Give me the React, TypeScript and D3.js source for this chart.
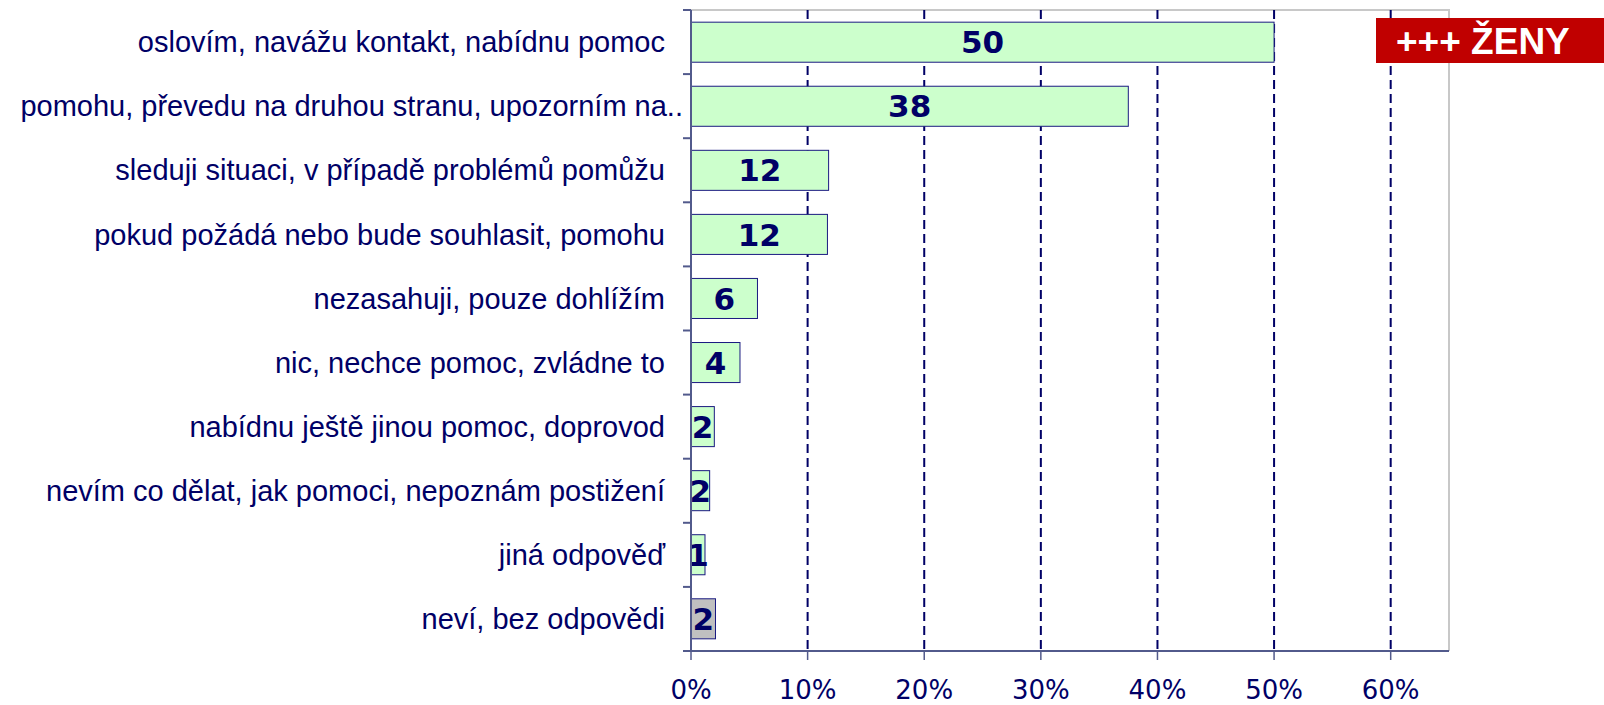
import React, { useEffect, useRef } from 'react';
import * as d3 from 'd3';

const categories = [
  'oslovím, navážu kontakt, nabídnu pomoc',
  'pomohu, převedu na druhou stranu, upozorním na..',
  'sleduji situaci, v případě problémů pomůžu',
  'pokud požádá nebo bude souhlasit, pomohu',
  'nezasahuji, pouze dohlížím',
  'nic, nechce pomoc, zvládne to',
  'nabídnu ještě jinou pomoc, doprovod',
  'nevím co dělat, jak pomoci, nepoznám postižení',
  'jiná odpověď',
  'neví, bez odpovědi',
];
const values = [50.0, 37.5, 11.8, 11.7, 5.7, 4.2, 2.0, 1.6, 1.2, 2.1];
const valueLabels = ['50', '38', '12', '12', '6', '4', '2', '2', '1', '2'];
const xTicks = [0, 10, 20, 30, 40, 50, 60];
const badgeText = '+++ ŽENY';

const W = 1604;
const H = 705;
const NAVY = '#000066';
const AXIS = '#525a8c';

export default function App() {
  const svgRef = useRef<SVGSVGElement | null>(null);

  useEffect(() => {
    if (!svgRef.current) return;
    const svg = d3.select(svgRef.current);
    svg.selectAll('*').remove();

    const left = 691;
    const right = 1449;
    const top = 10;
    const bottom = 651;

    const x = d3.scaleLinear().domain([0, 65]).range([left, right]);
    const y = d3.scaleBand<string>().domain(categories).range([top, bottom]).paddingInner(0.375).paddingOuter(0.19);
    const band = d3.scaleBand<string>().domain(categories).range([top, bottom]);

    svg.append('rect').attr('width', W).attr('height', H).attr('fill', '#fff');

    // plot frame (top + right)
    svg.append('path')
      .attr('d', `M${left},${top}H${right}V${bottom}`)
      .attr('fill', 'none')
      .attr('stroke', '#c8c8c8')
      .attr('stroke-width', 2);

    // dashed gridlines
    svg.selectAll('.grid')
      .data(xTicks.filter(t => t > 0))
      .enter()
      .append('line')
      .attr('x1', d => x(d))
      .attr('x2', d => x(d))
      .attr('y1', top)
      .attr('y2', bottom)
      .attr('stroke', NAVY)
      .attr('stroke-width', 2)
      .attr('stroke-dasharray', '9,5');

    // bars
    svg.selectAll('.bar')
      .data(values)
      .enter()
      .append('rect')
      .attr('x', x(0))
      .attr('y', (_, i) => y(categories[i])!)
      .attr('width', d => x(d) - x(0))
      .attr('height', y.bandwidth())
      .attr('fill', (_, i) => (i === categories.length - 1 ? '#c0c0c0' : '#ccffcc'))
      .attr('stroke', '#1a1a80')
      .attr('stroke-width', 1);

    // value labels
    svg.selectAll('.val')
      .data(values)
      .enter()
      .append('text')
      .attr('x', d => (x(0) + x(d)) / 2)
      .attr('y', (_, i) => y(categories[i])! + y.bandwidth() / 2)
      .attr('dy', '0.36em')
      .attr('text-anchor', 'middle')
      .attr('font-family', 'DejaVu Sans, Verdana, sans-serif')
      .attr('font-weight', 'bold')
      .attr('font-size', 31)
      .attr('fill', NAVY)
      .text((_, i) => valueLabels[i]);

    // left axis
    svg.append('line')
      .attr('x1', left).attr('x2', left)
      .attr('y1', top).attr('y2', bottom)
      .attr('stroke', AXIS).attr('stroke-width', 2);
    const bounds = categories.map(c => band(c)!).concat([bottom]);
    svg.selectAll('.ytick')
      .data(bounds)
      .enter()
      .append('line')
      .attr('x1', left - 8).attr('x2', left)
      .attr('y1', d => d).attr('y2', d => d)
      .attr('stroke', AXIS).attr('stroke-width', 2);

    // bottom axis
    svg.append('line')
      .attr('x1', left - 8).attr('x2', right)
      .attr('y1', bottom).attr('y2', bottom)
      .attr('stroke', AXIS).attr('stroke-width', 2);
    svg.selectAll('.xtick')
      .data(xTicks)
      .enter()
      .append('line')
      .attr('x1', d => x(d)).attr('x2', d => x(d))
      .attr('y1', bottom).attr('y2', bottom + 9)
      .attr('stroke', AXIS).attr('stroke-width', 1.5);
    svg.selectAll('.xlab')
      .data(xTicks)
      .enter()
      .append('text')
      .attr('x', d => x(d))
      .attr('y', 699)
      .attr('text-anchor', 'middle')
      .attr('font-family', 'DejaVu Sans, Verdana, sans-serif')
      .attr('font-size', 26)
      .attr('fill', NAVY)
      .text(d => `${d}%`);

    // category labels (truncated label overflows a bit to the right, as in the original)
    svg.selectAll('.cat')
      .data(categories)
      .enter()
      .append('text')
      .attr('x', d => (d.endsWith('..') ? 683 : 665))
      .attr('y', d => y(d)! + y.bandwidth() / 2)
      .attr('dy', '0.35em')
      .attr('text-anchor', 'end')
      .attr('font-family', 'Liberation Sans, Arial, sans-serif')
      .attr('font-size', 29)
      .attr('fill', NAVY)
      .text(d => d);

    // badge
    svg.append('rect')
      .attr('x', 1376).attr('y', 18)
      .attr('width', W - 1376).attr('height', 45)
      .attr('fill', '#c00000');
    svg.append('text')
      .attr('x', 1396).attr('y', 54)
      .attr('font-family', 'Liberation Sans, Arial, sans-serif')
      .attr('font-weight', 'bold')
      .attr('font-size', 37)
      .attr('fill', '#fff')
      .text(badgeText);
  }, []);

  return (
    <svg
      ref={svgRef}
      width={W}
      height={H}
      style={{ position: 'absolute', left: 0, top: 0, display: 'block' }}
    />
  );
}
